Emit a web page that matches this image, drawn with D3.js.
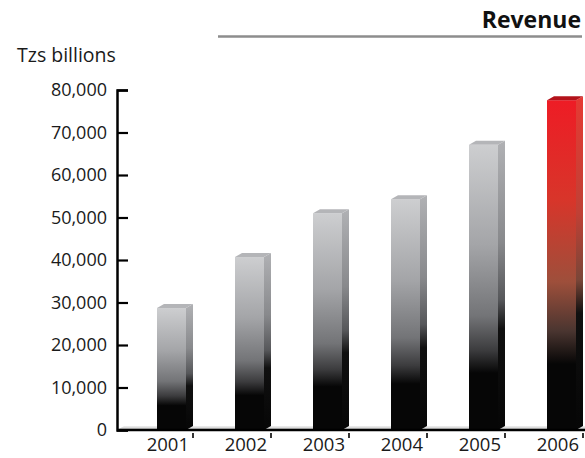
<!DOCTYPE html>
<html><head><meta charset="utf-8">
<script src="https://cdn.jsdelivr.net/npm/d3@7/dist/d3.min.js"></script>
<style>body{margin:0;background:#fff}text{font-family:"Open Sans",sans-serif}</style>
</head><body>
<svg id="c" width="585" height="458"></svg>
<script>
const years = ["2001","2002","2003","2004","2005","2006"];
const revenue = [28700, 40700, 51000, 54300, 67100, 77600];
const yTicks = [0,10000,20000,30000,40000,50000,60000,70000,80000];
const highlight = "2006";

const svg = d3.select("#c");
const x = d3.scaleBand().domain(years).range([115, 583]).padding(0);
const y = d3.scaleLinear().domain([0, 80000]).range([430, 90]);
const bw = x.bandwidth();
const front = 29, depth = 7, rise = 4;

const defs = svg.append("defs");
function grad(id, stops){
  const g = defs.append("linearGradient").attr("id", id).attr("x1",0).attr("y1",0).attr("x2",0).attr("y2",1);
  stops.forEach(s => g.append("stop").attr("offset", s[0]).attr("stop-color", s[1]));
}
grad("gF", [[0,"#cdced0"],[0.35,"#a4a5a8"],[0.6,"#737477"],[0.72,"#3c3c3e"],[0.8,"#060606"],[1,"#060606"]]);
grad("gS", [[0,"#b0b1b4"],[0.35,"#88898c"],[0.55,"#56575a"],[0.65,"#101010"],[1,"#060606"]]);
grad("rF", [[0,"#ee1c25"],[0.3,"#d8352a"],[0.55,"#9e4f3b"],[0.7,"#4a3530"],[0.8,"#060606"],[1,"#060606"]]);
grad("rS", [[0,"#e63a33"],[0.35,"#c04035"],[0.55,"#7a4638"],[0.65,"#101010"],[1,"#060606"]]);
grad("floor", [[0,"#f0f0f0"],[1,"#bdbdbd"]]);

// title
svg.append("text").attr("x", 581).attr("y", 28).attr("text-anchor","end")
  .attr("font-size", 23).attr("font-weight", 700).attr("fill","#111").text("Revenue");
svg.append("line").attr("x1",218).attr("x2",582).attr("y1",36.5).attr("y2",36.5)
  .attr("stroke","#8d8d8d").attr("stroke-width",2.5);
svg.append("text").attr("x", 17).attr("y", 62).attr("font-size", 19.5).attr("fill","#1a1a1a").text("Tzs billions");

// floor
const y0 = y(0);
svg.append("path").attr("d", `M117,${y0}L124,${y0-4}L585,${y0-4}L585,${y0}Z`).attr("fill","url(#floor)");

// bars
const data = years.map((d,i)=>({year:d, v:revenue[i]}));
const g = svg.append("g");
data.forEach(d => {
  const bx = x(d.year) + bw - (front + depth);
  const by = y(d.v);
  const red = d.year === highlight;
  g.append("path").attr("d", `M${bx+front},${by}L${bx+front+depth},${by-rise}L${bx+front+depth},${y0-rise}L${bx+front},${y0}Z`)
    .attr("fill", red ? "url(#rS)" : "url(#gS)");
  g.append("rect").attr("x", bx).attr("y", by).attr("width", front).attr("height", y0 - by)
    .attr("fill", red ? "url(#rF)" : "url(#gF)");
  g.append("path").attr("d", `M${bx},${by}L${bx+depth},${by-rise}L${bx+front+depth},${by-rise}L${bx+front},${by}Z`)
    .attr("fill", red ? "#b3121a" : "#b4b5b8");
});

// baseline
svg.append("line").attr("x1",117).attr("x2",585).attr("y1",y0).attr("y2",y0)
  .attr("stroke","#000").attr("stroke-width",2.5);

// y axis
const ya = svg.append("g").attr("transform","translate(117,0)")
  .call(d3.axisLeft(y).tickValues(yTicks).tickSizeInner(-11).tickSizeOuter(-11).tickPadding(10)
    .tickFormat(d3.format(",")));
ya.select(".domain").attr("stroke","#000").attr("stroke-width",2.5);
ya.selectAll(".tick line").attr("stroke","#000").attr("stroke-width",2.2);
ya.selectAll(".tick text").attr("font-size",18).attr("fill","#1a1a1a").attr("font-family","Open Sans, sans-serif");

// x axis
const xa = svg.append("g").attr("transform",`translate(0,${y0})`)
  .call(d3.axisBottom(x).tickSize(0));
xa.select(".domain").remove();
xa.selectAll(".tick line").attr("x1", bw/2).attr("x2", bw/2).attr("y1",3).attr("y2",8)
  .attr("stroke","#000").attr("stroke-width",1.6);
xa.selectAll(".tick text").attr("x", bw/2 - 4).attr("y", 21).attr("dy", 0)
  .attr("text-anchor","end").attr("font-size",18.5).attr("fill","#1a1a1a").attr("font-family","Open Sans, sans-serif");
</script>
</body></html>
